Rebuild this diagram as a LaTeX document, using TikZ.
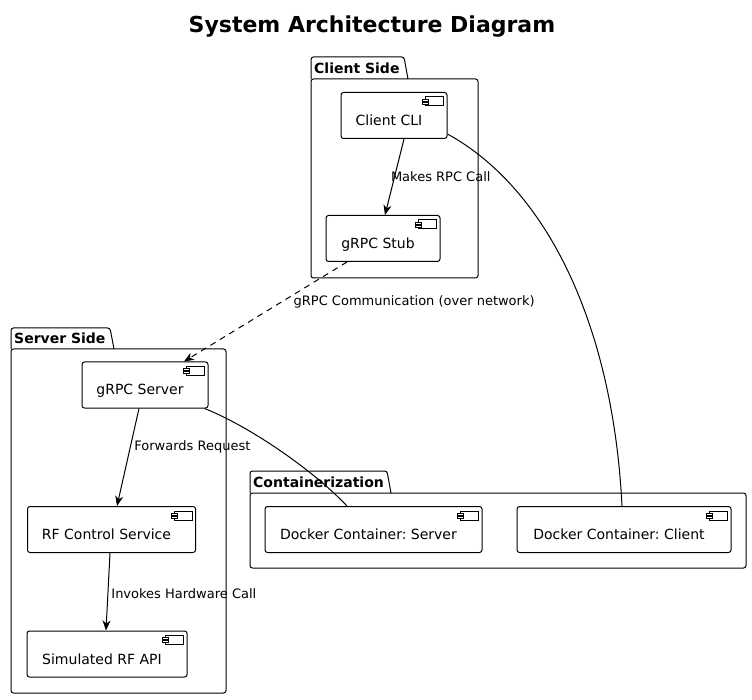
\documentclass[tikz,border=0pt]{standalone}
\usepackage{fontspec}
\setmainfont{DejaVu Sans}
\frenchspacing
\usetikzlibrary{arrows.meta,calc}
\tikzset{
    %Define standard arrow tip
    >={Stealth[length=10pt,width=8pt,inset=3pt]},
    %Define style for components
    component/.style={
           rectangle,
           rounded corners=2.5pt,
           draw=black, line width=1pt,
           minimum height=46pt,
           inner sep=0pt,
           text height=20pt, text depth=0pt,
           font=\fontsize{14}{16}\selectfont,
           execute at begin node={\hspace*{-10pt}}},
     %Define style for packages
     pkgline/.style={
           draw=black, line width=1pt,
           rounded corners=2.5pt},
     pkgtitle/.style={
           anchor=west, inner sep=0pt,
           font=\bfseries\fontsize{14}{16}\selectfont},
     lbl/.style={
           anchor=west, inner sep=0pt,
           font=\fontsize{13}{15}\selectfont},
    % Define arrow style
    call/.style={
           ->, line width=1pt},
    link/.style={
           line width=1pt}
}
% package frame: x1, tab top, tab right, body top, x2, bottom, title
\newcommand{\pkgframe}[7]{%
  \draw[pkgline] (#1,#4) -- (#1,#2) -- (#3,#2) -- (#3+4,#4);
  \draw[pkgline] (#1,#4) rectangle (#5,#6);
  \node[pkgtitle] at (#1+3,{(#2+#4)/2}) {#7};
}
% small component icon in the top right corner
\newcommand{\compicon}[1]{%
  \draw[line width=1pt, fill=white] ($(#1.north east)+(-22,5)$) rectangle ($(#1.north east)+(-4,14)$);
  \draw[line width=0.8pt, fill=white] ($(#1.north east)+(-25,7)$) rectangle ($(#1.north east)+(-19,9)$);
  \draw[line width=0.8pt, fill=white] ($(#1.north east)+(-25,10)$) rectangle ($(#1.north east)+(-19,12)$);
}
\begin{document}
\begin{tikzpicture}[x=1pt,y=-1pt]
\useasboundingbox[fill=white] (0,0) rectangle (752,700);
 %title
\node[font=\bfseries\fontsize{22}{26}\selectfont] (title) at (372,27) {System Architecture Diagram};
 %packages
\pkgframe{311}{57}{404}{79}{478}{278}{Client Side}
\pkgframe{11}{328}{110}{349}{226}{693}{Server Side}
\pkgframe{250}{471}{387}{493}{746}{568}{Containerization}
 %nodes
\node[component, minimum width=106pt] (cli) at (394,115.5) {Client CLI};
\node[component, minimum width=114pt] (stub) at (383,238.5) {gRPC Stub};
\node[component, minimum width=126pt] (server) at (145,385) {gRPC Server};
\node[component, minimum width=168pt] (rfctl) at (111.5,529.5) {RF Control Service};
\node[component, minimum width=160pt] (rfapi) at (107,654) {Simulated RF API};
\node[component, minimum width=217pt] (dserver) at (373.5,529.5) {Docker Container: Server};
\node[component, minimum width=214pt] (dclient) at (624,529.5) {Docker Container: Client};
\foreach \n in {cli,stub,server,rfctl,rfapi,dserver,dclient}
  \compicon{\n};
 %connectors
\draw[call] ([xshift=10pt]cli.south) -- node[lbl, pos=.5, xshift=-4pt]{Makes RPC Call} ([xshift=2pt]stub.north);
\draw[call, dash pattern=on 6pt off 5pt] ([xshift=-36pt]stub.south) -- node[lbl, pos=.404, xshift=12pt]{gRPC Communication (over network)} ([xshift=39pt]server.north);
\draw[call] ([xshift=-6pt]server.south) -- node[lbl, pos=.39, xshift=3.5pt]{Forwards Request} ([xshift=5.5pt]rfctl.north);
\draw[call] ([xshift=-1.5pt]rfctl.south) -- node[lbl, pos=.52, xshift=3pt]{Invokes Hardware Call} ([xshift=-1pt]rfapi.north);
\draw[link] ([xshift=-4pt]server.south east) .. controls +(41,16) and +(-37,-39) .. ([xshift=-26.5pt]dserver.north);
\draw[link] ([yshift=5pt]cli.south east) .. controls +(100,55) and +(-9,-180) .. ([xshift=-2pt]dclient.north);
\end{tikzpicture}
\end{document}
